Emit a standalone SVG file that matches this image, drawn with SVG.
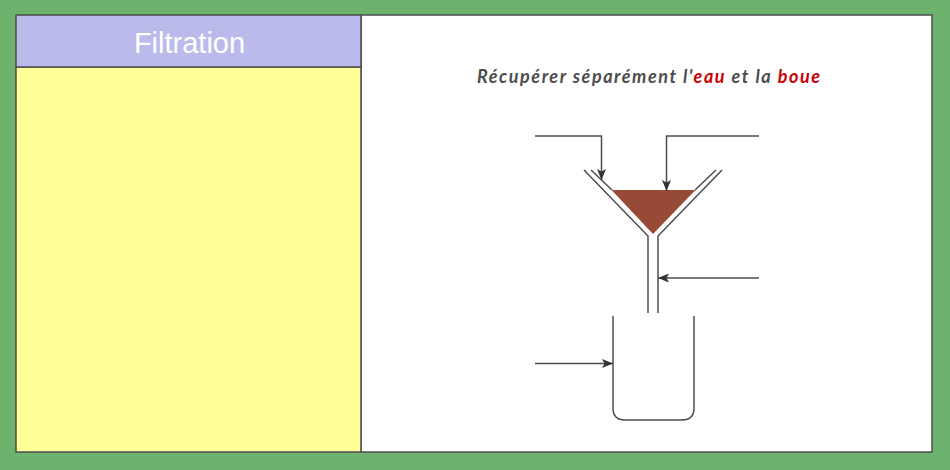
<svg xmlns="http://www.w3.org/2000/svg" width="950" height="470" viewBox="0 0 950 470">
<style>
.frame{stroke:#4d4d4d;stroke-width:1.5}
.line{fill:none;stroke:#4d4d4d;stroke-width:1.5}
.title{font-family:"Lato","Open Sans",sans-serif;font-size:18px;font-weight:700;font-style:italic;fill:#4d4d4d}
.red{fill:#cc0000}
</style>
<defs>
<marker id="arrow" markerUnits="userSpaceOnUse" markerWidth="12" markerHeight="12" refX="11" refY="6" orient="auto">
<path d="M0,1.500L11,6L0,10.500L2.500,6Z" fill="#333"/>
</marker>
</defs>
<rect width="950" height="470" fill="#6db36d"/>
<g id="panel-right"><rect x="361" y="15" width="571" height="437" fill="#fff" class="frame"/></g>
<g id="panel-body"><rect x="16" y="67" width="345" height="385" fill="#ffff99" class="frame"/></g>
<g id="panel-header"><rect x="16" y="15" width="345" height="52" fill="#bbbbeb" class="frame"/>
<text x="189.500" y="52.500" text-anchor="middle" font-family="Liberation Sans, sans-serif" font-size="29" fill="#fff">Filtration</text></g>
<g id="heading"><text x="477" y="83" class="title" textLength="343" lengthAdjust="spacing">Récupérer séparément l'<tspan class="red">eau</tspan> et la <tspan class="red">boue</tspan></text></g>
<g id="funnel">
<path class="line" d="M584,170L648,236V313M722,170L658,236V313"/>
<path class="line" d="M591,170L612,190M716,170L695,190"/>
<path d="M611.500,190H695.500L653,234Z" fill="#974a35"/>
</g>
<g id="beaker"><path class="line" d="M613,316V408Q613,420 625,420H682Q694,420 694,408V316"/></g>
<g id="connectors">
<path class="line" marker-end="url(#arrow)" d="M535,136H601.500V180"/>
<path class="line" marker-end="url(#arrow)" d="M759,136H666.500V191"/>
<path class="line" marker-end="url(#arrow)" d="M759,278H658"/>
<path class="line" marker-end="url(#arrow)" d="M535,363.500H613"/>
</g>
</svg>
